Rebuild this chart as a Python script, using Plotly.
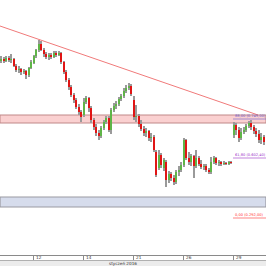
import plotly.graph_objects as go

# OHLC values (arbitrary price units)
opens = [194,196,194,197,195,196,189,185,186,183,184,180,187,192,199,205,211,205,201,198,
         200,198,202,200,202,193,183,175,168,160,155,148,143,140,153,157,147,135,128,122,
         119,127,133,137,125,145,149,151,156,159,164,167,169,155,138,139,131,126,122,124,
         117,118,103,87,100,87,93,75,81,77,73,83,85,90,115,97,93,99,89,97,
         91,88,89,85,83,93,97,92,93,91,92,91,93,120,130,125,117,123,125,129,
         132,128,124,121,115,118]
highs = [199,198,199,199,201,197,191,189,187,186,185,188,195,200,206,215,214,207,203,202,
         202,204,204,204,203,194,185,177,170,162,157,151,145,157,159,158,149,137,131,125,
         129,135,139,139,147,152,154,158,161,167,170,172,171,159,150,141,135,129,127,125,
         122,120,105,105,102,97,95,84,83,80,85,89,93,117,116,103,101,100,105,99,
         95,91,91,87,98,99,98,95,94,94,93,94,94,133,132,128,127,128,131,134,
         135,130,127,125,122,120]
lows = [192,192,193,193,192,188,183,182,180,181,176,178,186,191,197,203,204,198,196,195,
        196,197,198,199,191,181,173,165,158,152,146,140,133,138,151,143,132,125,119,115,
        117,125,131,123,121,143,146,149,154,157,162,165,159,135,133,128,124,119,118,114,
        113,103,78,85,87,84,68,72,74,70,71,79,83,88,95,90,89,77,87,89,
        86,85,83,81,81,91,90,89,89,90,90,90,91,117,120,113,115,121,123,127,
        125,121,118,112,111,110]
closes = [196,194,197,195,196,189,185,186,183,184,180,187,193,199,205,211,205,201,198,200,
          198,202,200,202,193,183,175,168,160,155,148,143,138,153,157,147,135,128,122,119,
          127,133,137,125,145,149,151,156,159,164,167,169,161,138,139,131,126,122,124,117,
          118,105,80,100,90,95,75,81,77,73,83,85,90,115,97,93,99,89,97,91,
          88,89,85,83,93,97,92,93,91,92,91,93,92,130,125,117,123,125,129,132,
          128,124,121,115,118,113]

tick_pos = [12.7, 32.7, 52.7, 72.7, 92.7]
tick_labels = ["12", "14", "21", "26", "29"]
axis_title = "styczeń 2016"

# drawn objects
trend_x = [-0.5, 102.7]
trend_y = [229, 140]
pink_band = [132, 140]
blue_band = [48, 58]
fib_levels = [136, 97, 37]
fib_texts = ["88,00 (0.749,00)", "61,80 (0.602,40)", "0,00 (0.292,00)"]
fib_colors = ["#6a5acd", "#9b30c8", "#ff3030"]
fib_start = 92.7

x = list(range(len(closes)))
GREEN = "#5fb548"
RED = "#e01515"
body_base = [min(o, c) for o, c in zip(opens, closes)]
body_h = [max(abs(c - o), 1) for o, c in zip(opens, closes)]
body_col = [GREEN if c >= o else RED for o, c in zip(opens, closes)]
wick_h = [h - l for h, l in zip(highs, lows)]

fig = go.Figure()
fig.add_trace(go.Bar(x=x, y=wick_h, base=lows, width=0.35,
                     marker=dict(color="#9a9a9a", line=dict(width=0)), showlegend=False))
fig.add_trace(go.Bar(x=x, y=body_h, base=body_base, width=0.8,
                     marker=dict(color=body_col, line=dict(width=0)), showlegend=False))
fig.add_trace(go.Scatter(x=trend_x, y=trend_y, mode="lines",
                         line=dict(color="#f07a7a", width=1), showlegend=False))

shapes = [
    dict(type="rect", xref="paper", x0=0, x1=1, yref="y", y0=pink_band[0], y1=pink_band[1],
         fillcolor="rgba(245,150,150,0.45)", line=dict(color="#c08888", width=1), layer="below"),
    dict(type="rect", xref="paper", x0=0, x1=1, yref="y", y0=blue_band[0], y1=blue_band[1],
         fillcolor="#d6dcec", line=dict(color="#9a9aa2", width=1.2), layer="below"),
    dict(type="rect", xref="paper", x0=0, x1=1, yref="paper", y0=-11/255, y1=-5.5/255,
         fillcolor="#ececec", line=dict(width=0)),
    dict(type="line", xref="paper", x0=0, x1=1, yref="paper", y0=-5.5/255, y1=-5.5/255,
         line=dict(color="#b0b0b0", width=1)),
]
annotations = []
for lv, tx, col in zip(fib_levels, fib_texts, fib_colors):
    shapes.append(dict(type="line", xref="x", x0=fib_start, x1=105.9, yref="y", y0=lv, y1=lv,
                       line=dict(color=col, width=0.6)))
    annotations.append(dict(x=fib_start, y=lv, xref="x", yref="y", text=tx, showarrow=False,
                            xanchor="left", yanchor="bottom", xshift=0, yshift=-0.5,
                            font=dict(size=3.6, color=col, family="DejaVu Sans")))
for tp, tl in zip(tick_pos, tick_labels):
    annotations.append(dict(x=tp, y=-2.6/255, xref="x", yref="paper", text=tl, showarrow=False,
                            xanchor="left", yanchor="middle", xshift=1,
                            font=dict(size=4.2, color="#333", family="DejaVu Sans")))
annotations.append(dict(x=123/266, y=-8.3/255, xref="paper", yref="paper", text=axis_title,
                        showarrow=False, xanchor="center", yanchor="middle",
                        font=dict(size=4.2, color="#333", family="DejaVu Sans")))

fig.update_layout(
    width=266, height=266, margin=dict(l=0, r=0, t=0, b=11, pad=0),
    paper_bgcolor="white", plot_bgcolor="white", barmode="overlay", bargap=0,
    shapes=shapes, annotations=annotations, showlegend=False,
    xaxis=dict(range=[-0.5, 105.9], showgrid=False, zeroline=False, showline=True,
               linecolor="#8a8a8a", linewidth=1, ticks="outside", ticklen=5,
               tickcolor="#8a8a8a", tickwidth=1, tickvals=tick_pos, showticklabels=False,
               fixedrange=True),
    yaxis=dict(range=[0, 255], visible=False, fixedrange=True),
)
fig.write_html("out.html", config=dict(displayModeBar=False))
